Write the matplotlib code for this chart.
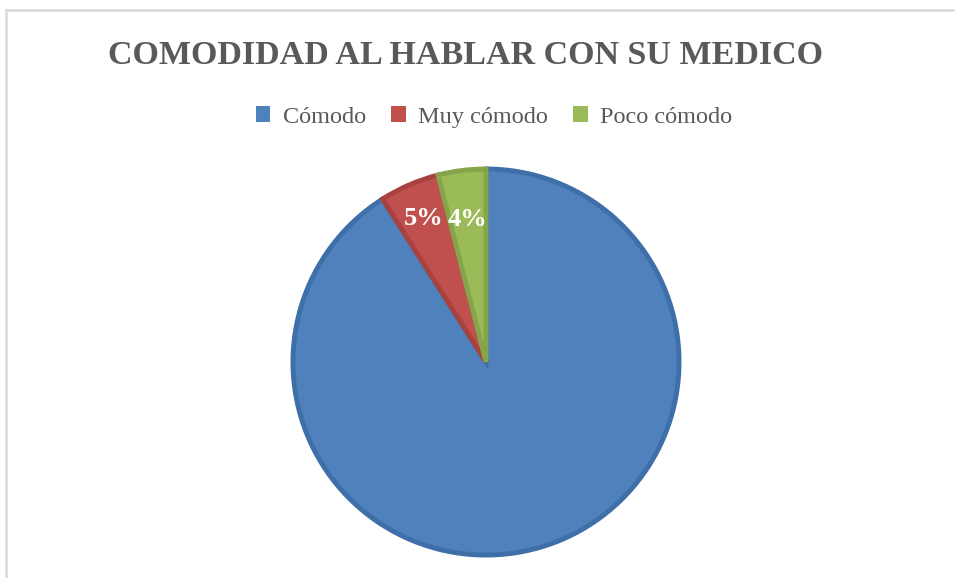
import matplotlib.pyplot as plt
from matplotlib.lines import Line2D
from matplotlib.patches import Patch

# datos del grafico
categorias = ["Cómodo", "Muy cómodo", "Poco cómodo"]
porcentajes = [91, 5, 4]
colores = ["#4F81BD", "#C0504D", "#9BBB59"]
bordes = ["#3E6FA8", "#A9413E", "#86A44A"]
dist_etiqueta = [0.78, 0.81, 0.745]

plt.rcParams['font.family'] = ['Liberation Serif', 'DejaVu Serif']

fig = plt.figure(figsize=(9.55, 5.78), dpi=100)

# marco recortado (solo arriba e izquierda)
fig.add_artist(Line2D([6 / 955, 6 / 955], [0, 1 - 10 / 578], transform=fig.transFigure,
                      color="#D9D9D9", linewidth=1.8))
fig.add_artist(Line2D([6 / 955, 1], [1 - 10 / 578, 1 - 10 / 578], transform=fig.transFigure,
                      color="#D9D9D9", linewidth=1.8))

ax = fig.add_axes([0.3047, 0.0363, 0.4084, 0.6747])
wedges, textos, autotextos = ax.pie(
    porcentajes, colors=colores, startangle=90, counterclock=False,
    autopct=lambda p: f"{p:.0f}%" if p < 50 else "", pctdistance=1.0,
    textprops=dict(color="white", fontsize=19, fontweight="bold"))
for w, b in zip(wedges, bordes):
    w.set_edgecolor(b)
    w.set_linewidth(3.5)
for t, d in zip(autotextos, dist_etiqueta):
    x, y = t.get_position()
    t.set_position((x * d, y * d))
ax.set_xlim(-1.01, 1.01)
ax.set_ylim(-1.01, 1.01)
ax.set_aspect('equal')

fig.text(0.487, 1 - 56 / 578, "COMODIDAD AL HABLAR CON SU MEDICO", ha="center", va="center",
         fontsize=24.5, fontweight="bold", color="#595959")

manijas = [Patch(facecolor=c, edgecolor="none") for c in colores]
fig.legend(manijas, categorias, loc="center", bbox_to_anchor=(494 / 955, 1 - 117 / 578),
           ncol=3, frameon=False, fontsize=17.5, handlelength=0.6, handleheight=0.6,
           handletextpad=0.5, columnspacing=1.05, labelcolor="#595959")

fig.savefig("out.png", dpi=100)
